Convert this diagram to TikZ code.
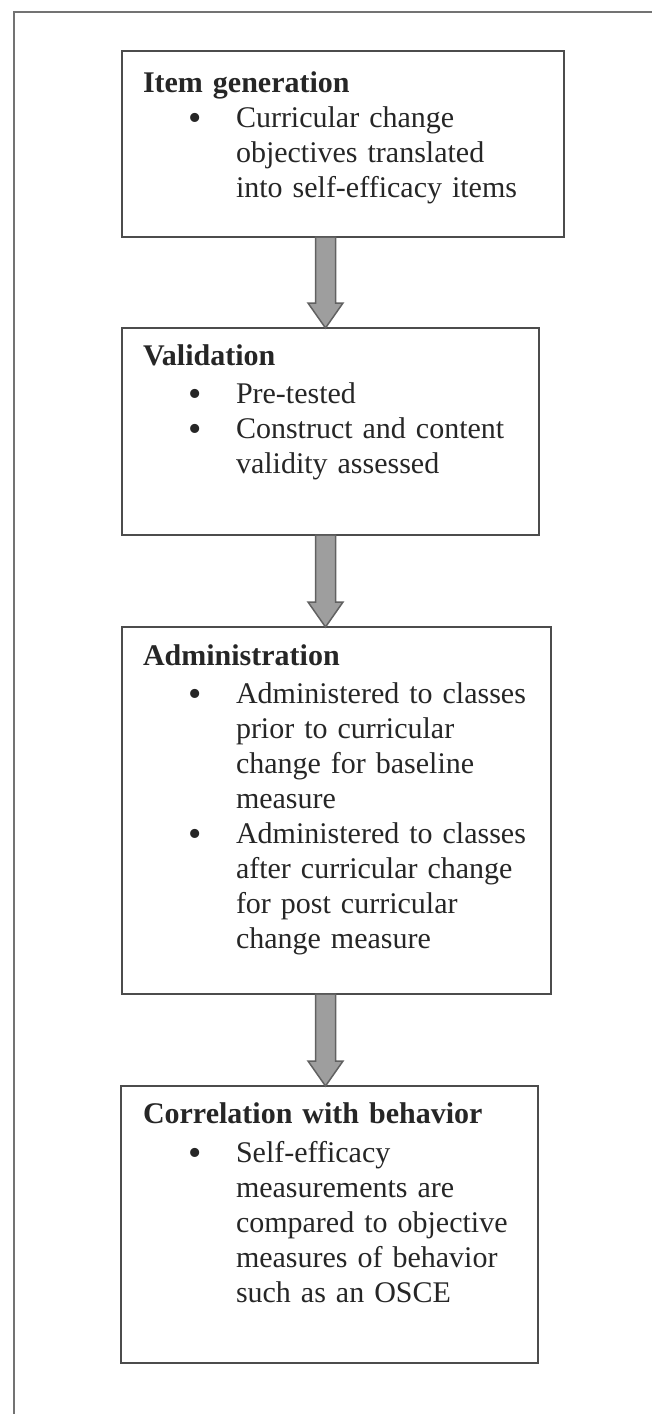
\documentclass[tikz,border=0pt]{standalone}
\usepackage{fontspec}
\setmainfont{Liberation Serif}
\usetikzlibrary{calc}
\newcommand{\bitem}[1]{\par\noindent\hangindent=93pt\hangafter=1\makebox[93pt][l]{\hspace*{45pt}\raisebox{-3pt}[0pt][0pt]{\fontsize{38pt}{35pt}\selectfont\textbullet}}#1\par}
\newcommand{\btitle}[2]{\noindent\strut\textbf{#1}\par\vspace{#2}}
\newcommand{\fatarrow}[2]{%
  \coordinate (#1s) at ($(#1.south west)+(203.5,0)$);
  \coordinate (#1e) at (#1s |- #2.north);
  \draw[blockarrow] ($(#1s)+(-10,0)$) -- ($(#1s)+(10,0)$) -- ($(#1e)+(10,-25)$) -- ($(#1e)+(17.5,-25)$) -- (#1e) -- ($(#1e)+(-17.5,-25)$) -- ($(#1e)+(-10,-25)$) -- cycle;}
\tikzset{
  box/.style={draw=black!70, line width=2pt, inner sep=0pt, outer sep=0pt, anchor=north west},
  txt/.style={anchor=north west, inner sep=0pt, outer sep=0pt, text width=420pt, align=left, text=black!85, font=\fontsize{30pt}{35pt}\selectfont},
  blockarrow/.style={fill=black!38, draw=black!62, line width=1.5pt, line join=miter},
  frame/.style={draw=black!55, line width=2pt}
}
\begin{document}
\begin{tikzpicture}[x=1pt,y=-1pt]
\useasboundingbox (0,0) rectangle (652,1414);
\draw[frame] (14,1414) -- (14,12) -- (652,12);

\node[box, minimum width=442pt, minimum height=186pt] (b1) at (122,51) {};
\node[box, minimum width=417pt, minimum height=207pt] (b2) at (122,328) {};
\node[box, minimum width=429pt, minimum height=367pt] (b3) at (122,627) {};
\node[box, minimum width=417pt, minimum height=277pt] (b4) at (121,1086) {};

\node[txt] (t1) at (143,67.5) {\btitle{Item generation}{0.5pt}\bitem{Curricular change\newline objectives translated\newline into self-efficacy items}};
\node[txt] (t2) at (143,340.5) {\btitle{Validation}{3pt}\bitem{Pre-tested}\bitem{Construct and content\newline validity assessed}};
\node[txt] (t3) at (143,640.5) {\btitle{Administration}{3pt}\bitem{Administered to classes\newline prior to curricular\newline change for baseline\newline measure}\bitem{Administered to classes\newline after curricular change\newline for post curricular\newline change measure}};
\node[txt] (t4) at (143,1098.5) {\btitle{Correlation with behavior}{4pt}\bitem{Self-efficacy\newline measurements are\newline compared to objective\newline measures of behavior\newline such as an OSCE}};

\fatarrow{b1}{b2}
\fatarrow{b2}{b3}
\fatarrow{b3}{b4}
\end{tikzpicture}
\end{document}
